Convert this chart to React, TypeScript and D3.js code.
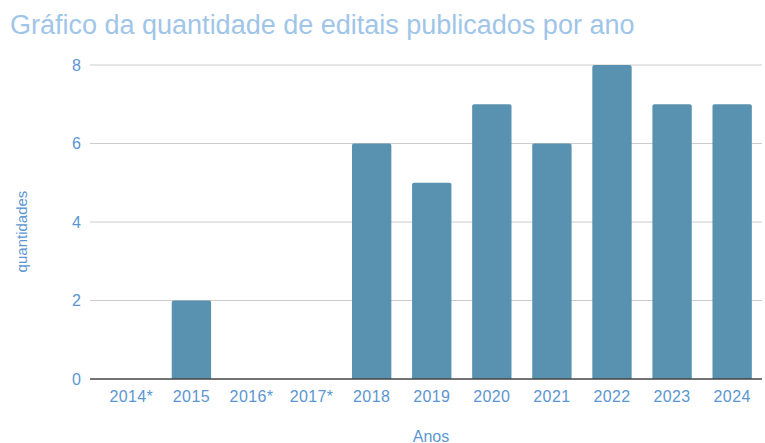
import React from "react";
import * as d3 from "d3";

const categories = ["2014*", "2015", "2016*", "2017*", "2018", "2019", "2020", "2021", "2022", "2023", "2024"];
const values = [0, 2, 0, 0, 6, 5, 7, 6, 8, 7, 7];
const yTicks = [0, 2, 4, 6, 8];

const W = 765;
const H = 443;

export default function App() {
  const x = d3
    .scaleBand<string>()
    .domain(categories)
    .range([101.3, 762.2])
    .paddingInner(0.345)
    .paddingOuter(0.1725);
  const y = d3.scaleLinear().domain([0, 8]).range([379, 65]);
  const font = "'Liberation Sans', Arial, sans-serif";
  const labelColor = "#5b96d3";

  return (
    <svg
      width={W}
      height={H}
      style={{ position: "absolute", left: 0, top: 0, background: "#fff" }}
      fontFamily={font}
    >
      <text x={10} y={33.5} fontSize={27} fill="#9fc5e8">
        Gráfico da quantidade de editais publicados por ano
      </text>
      {yTicks.map((t) => (
        <g key={t}>
          {t !== 0 && (
            <line x1={90} x2={762} y1={y(t)} y2={y(t)} stroke="#cccccc" strokeWidth={1} />
          )}
          <text x={81} y={y(t)} dy="0.36em" textAnchor="end" fontSize={16} fill={labelColor}>
            {t}
          </text>
        </g>
      ))}
      {categories.map((c, i) => {
        const v = values[i];
        if (v <= 0) return null;
        const x0 = x(c)!;
        const bw = x.bandwidth();
        const top = y(v);
        const bottom = y(0);
        const r = 2;
        const d = `M${x0},${bottom}V${top + r}Q${x0},${top} ${x0 + r},${top}H${x0 + bw - r}Q${x0 + bw},${top} ${x0 + bw},${top + r}V${bottom}Z`;
        return <path key={c} d={d} fill="#5892b0" />;
      })}
      <line x1={90} x2={762} y1={y(0)} y2={y(0)} stroke="#444" strokeWidth={1.5} />
      {categories.map((c) => (
        <text
          key={c}
          x={x(c)! + x.bandwidth() / 2}
          y={402}
          textAnchor="middle"
          fontSize={16}
          letterSpacing={0.4}
          fill={labelColor}
        >
          {c}
        </text>
      ))}
      <text x={431} y={441.5} textAnchor="middle" fontSize={16} fill={labelColor}>
        Anos
      </text>
      <text
        transform={`translate(27,231.5) rotate(-90)`}
        textAnchor="middle"
        fontSize={15}
        fill={labelColor}
      >
        quantidades
      </text>
    </svg>
  );
}
